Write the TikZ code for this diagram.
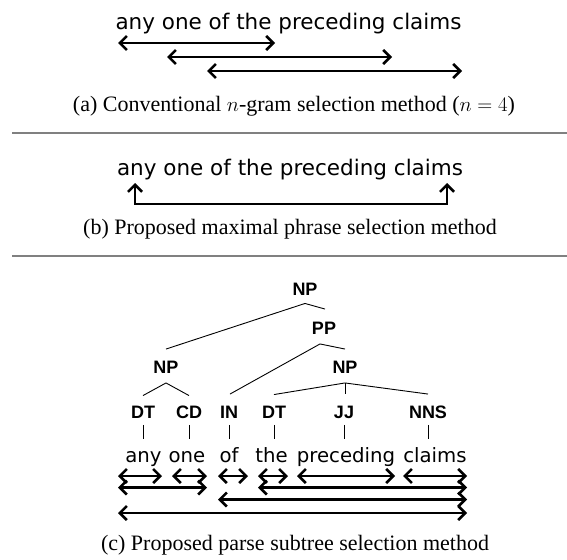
\documentclass[tikz,border=0pt]{standalone}
\usepackage{fontspec}
\setmainfont{Liberation Serif}
\newfontfamily\wordfont{DejaVu Sans}
\newfontfamily\labfont{Liberation Sans}
\usetikzlibrary{arrows.meta,calc}
\tikzset{
  darr/.style={line width=2.6pt,{Straight Barb[length=7pt,width=14pt]}-{Straight Barb[length=7pt,width=14pt]}},
  bracket/.style={line width=2.6pt,{Straight Barb[length=7pt,width=14pt]}-{Straight Barb[length=7pt,width=14pt]}},
  sent/.style={inner sep=0pt,anchor=base,font=\wordfont\fontsize{21.5}{24}\selectfont},
  word/.style={inner sep=0pt,anchor=base,font=\wordfont\fontsize{19.7}{22}\selectfont},
  lab/.style={inner sep=0pt,text height=12.5pt,text depth=0pt,font=\labfont\bfseries\fontsize{18}{20}\selectfont},
  capt/.style={inner sep=0pt,anchor=base,font=\fontsize{22}{25}\selectfont},
  rulebar/.style={draw=black!50,line width=1.6pt},
  edge/.style={line width=0.9pt}
}
\begin{document}
\begin{tikzpicture}[x=1pt,y=-1pt]
\useasboundingbox (0,0) rectangle (567,559);
% ---------- (a)
\node[sent] (sa) at (288.5,29.3) {any one of the preceding claims};
\coordinate (a1s) at (118,43);  \coordinate (a1e) at (275,43);
\coordinate (a2s) at (167,57);  \coordinate (a2e) at (392,57);
\coordinate (a3s) at (207,71);  \coordinate (a3e) at (462,71);
\draw[darr] (a1s) -- (a1e);
\draw[darr] (a2s) -- (a2e);
\draw[darr] (a3s) -- (a3e);
\node[capt] (ca) at (294,112) {(a) Conventional $n$-gram selection method ($n=4$)};
\coordinate (r1s) at (12,133); \coordinate (r1e) at (567,133);
\draw[rulebar] (r1s) -- (r1e);
% ---------- (b)
\node[sent] (sb) at (290,175) {any one of the preceding claims};
\coordinate (bl) at (135,183); \coordinate (br) at (447,183);
\draw[bracket] (bl) -- ++(0,21) -| (br);
\node[capt] (cb) at (290,234) {(b) Proposed maximal phrase selection method};
\coordinate (r2s) at (12,256); \coordinate (r2e) at (567,256);
\draw[rulebar] (r2s) -- (r2e);
% ---------- (c) tree
\node[lab] (np0) at (305,289) {NP};
\node[lab] (pp)  at (324,328) {PP};
\node[lab] (npl) at (166,367.5) {NP};
\node[lab] (npr) at (345,367.5) {NP};
\node[lab] (dt1) at (143,412.5) {DT};
\node[lab] (cd)  at (189,412.5) {CD};
\node[lab] (in)  at (229,412.5) {IN};
\node[lab] (dt2) at (274,412.5) {DT};
\node[lab] (jj)  at (344,412.5) {JJ};
\node[lab] (nns) at (428,412.5) {NNS};
\draw[edge] ($(np0.south)+(0,8)$) -- ($(npl.north)+(0,-12)$);
\draw[edge] ($(np0.south)+(0,8)$) -- ($(pp.north)+(1,-12.5)$);
\draw[edge] ($(pp.south)+(-4,9.5)$) -- ($(in.north)+(1,-12)$);
\draw[edge] ($(pp.south)+(-4,9.5)$) -- ($(npr.north)+(0,-12)$);
\draw[edge] ($(npl.south)+(0,9)$) -- ($(dt1.north)+(0,-10.5)$);
\draw[edge] ($(npl.south)+(0,9)$) -- ($(cd.north)+(0,-10.5)$);
\draw[edge] ($(npr.south)+(0,9)$) -- ($(dt2.north)+(0,-11.5)$);
\draw[edge] ($(npr.south)+(0,9)$) -- ($(jj.north)+(1,-12)$);
\draw[edge] ($(npr.south)+(0,9)$) -- ($(nns.north)+(0,-12)$);
% words
\node[word] (w1) at (143.5,462) {any};
\node[word] (w2) at (187,462) {one};
\node[word] (w3) at (229,462) {of};
\node[word] (w4) at (271.5,462) {the};
\node[word] (w5) at (346,462) {preceding};
\node[word] (w6) at (435,462) {claims};
\foreach \n in {dt1,cd,in,dt2,jj,nns}{
  \draw[edge] ($(\n.south)+(0,6)$) -- ($(\n.south)+(0,20.5)$);
}
% span arrows
\coordinate (x1) at (118,0); \coordinate (x2) at (162,0);
\coordinate (x3) at (172,0); \coordinate (x4) at (207,0);
\coordinate (x5) at (218,0); \coordinate (x6) at (248,0);
\coordinate (x7) at (258,0); \coordinate (x8) at (288,0);
\coordinate (x9) at (297,0); \coordinate (x10) at (395,0);
\coordinate (x11) at (403,0); \coordinate (x12) at (467,0);
\draw[darr] (x1 |- 0,476) -- (x2 |- 0,476);
\draw[darr] (x3 |- 0,476) -- (x4 |- 0,476);
\draw[darr] (x5 |- 0,476) -- (x6 |- 0,476);
\draw[darr] (x7 |- 0,476) -- (x8 |- 0,476);
\draw[darr] (x9 |- 0,476) -- (x10 |- 0,476);
\draw[darr] (x11 |- 0,476) -- (x12 |- 0,476);
\draw[darr] (x1 |- 0,487.5) -- (x4 |- 0,487.5);
\draw[darr] (x7 |- 0,487.5) -- (x12 |- 0,487.5);
\draw[darr] (x5 |- 0,499.5) -- (x12 |- 0,499.5);
\draw[darr] (x1 |- 0,513) -- (x12 |- 0,513);
\node[capt] (cc) at (295,550) {(c) Proposed parse subtree selection method};
\end{tikzpicture}
\end{document}
